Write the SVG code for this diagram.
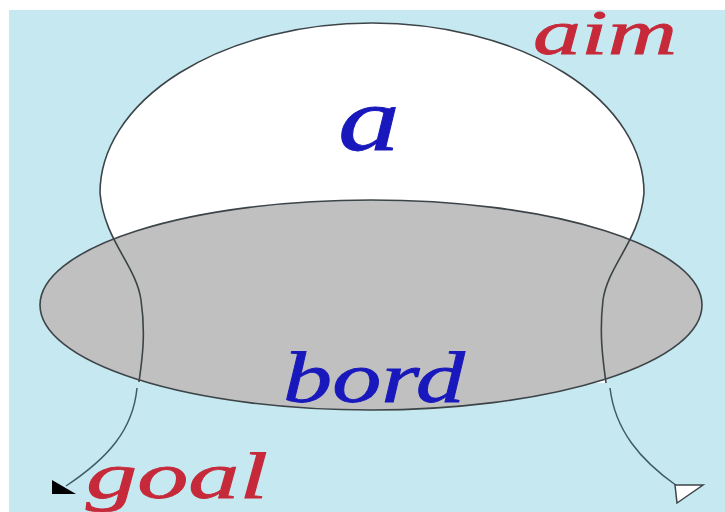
<svg xmlns="http://www.w3.org/2000/svg" width="725" height="512" viewBox="0 0 725 512">
<defs>
<style>
.outline{fill:none;stroke:#3c4448;stroke-width:1.6}
.conn{fill:none;stroke:#3f5c66;stroke-width:1.5}
.lbl{font-family:"Liberation Serif","Times New Roman",serif;font-style:italic;stroke-width:0.8}
.red{fill:#c62a3a;stroke:#c62a3a}
.blue{fill:#1818bc;stroke:#1818bc}
</style>
</defs>
<rect x="0" y="0" width="725" height="512" fill="#ffffff"/>
<rect x="9" y="10" width="716" height="502" fill="#c6e8f1"/>
<g id="dome">
<path d="M139,382 C142,360 146,335 141,300 C136,265 104,240 100,193 A272 170 0 0 1 644 193 C640,240 608,265 603,300 C599,335 603,360 606,383 Z" fill="#ffffff" stroke="none"/>
<path class="outline" d="M100,193 A272 170 0 0 1 644 193"/>
</g>
<g id="bord">
<ellipse cx="371" cy="305" rx="331" ry="105" fill="#c0c0c0" stroke="#3c4448" stroke-width="1.6"/>
</g>
<g id="dome-sides">
<path class="outline" d="M100,193 C104,240 136,265 141,300 C146,335 142,360 139,382"/>
<path class="outline" d="M644,193 C640,240 608,265 603,300 C599,335 603,360 606,383"/>
</g>
<g id="connectors">
<path class="conn" d="M137,388 C133,430 108,458 66,486"/>
<polygon points="52,480 76,494 52,494" fill="#000000"/>
<path class="conn" d="M610,388 C615,430 640,460 677,486"/>
<polygon points="675,485 703,485 677,503" fill="#ffffff" stroke="#3c4448" stroke-width="1.5"/>
</g>
<g id="labels">
<text class="lbl red" x="533" y="54" font-size="64" textLength="144" lengthAdjust="spacingAndGlyphs">aim</text>
<text class="lbl blue" x="338" y="150" font-size="90" textLength="62" lengthAdjust="spacingAndGlyphs">a</text>
<text class="lbl blue" x="283" y="402" font-size="72" textLength="182" lengthAdjust="spacingAndGlyphs">bord</text>
<text class="lbl red" x="86" y="498" font-size="66" textLength="182" lengthAdjust="spacingAndGlyphs">goal</text>
</g>
</svg>
